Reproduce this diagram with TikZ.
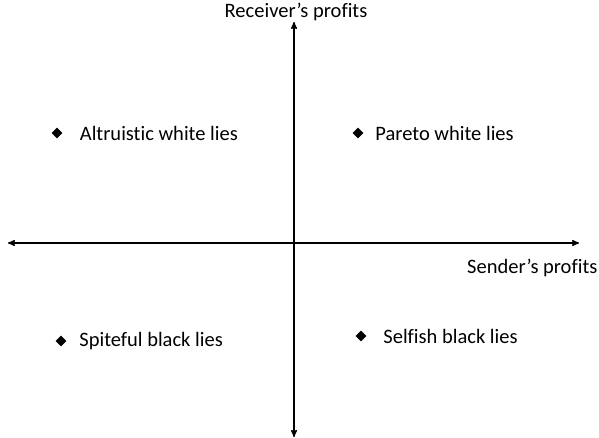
\documentclass[tikz,border=0pt]{standalone}
\usepackage{fontspec}
\setmainfont[Ligatures=NoCommon]{Carlito}
\usetikzlibrary{arrows}
\usetikzlibrary{positioning,shapes.geometric}

\begin{document}
\begin{tikzpicture} [x=1pt, y=-1pt, >=stealth',
  lie/.style={inner sep=0, font=\fontsize{20.5}{24}\selectfont},
  dot/.style={diamond, fill=black, inner sep=0, minimum size=11pt}]
\useasboundingbox (0,0) rectangle (599,438);
\coordinate (top) at (294,22);
\coordinate (bot) at (294,437);
\coordinate (lft) at (8,243);
\coordinate (rgt) at (579,243);
\draw[black, line width=1.4pt, <->] (bot)--(top);
\draw[black, line width=1.4pt, <->] (lft)--(rgt);
\node[lie] (recv) at (296,12) {Receiver's profits};
\node[lie, anchor=west] (send) at (467,268) {Sender's profits};
% the four kinds of lies
\node[dot] (aw) at (57,133) {};
\node[lie, right=17pt of aw] (awt) {Altruistic white lies};
\node[dot] (pw) at (358,133) {};
\node[lie, right=11.5pt of pw] (pwt) {Pareto white lies};
\node[dot] (sp) at (61,341) {};
\node[lie, right=12.5pt of sp] (spt) {Spiteful black lies};
\node[dot] (sf) at (361,336) {};
\node[lie, right=16.5pt of sf] (sft) {Selfish black lies};
\end{tikzpicture}
\end{document}
